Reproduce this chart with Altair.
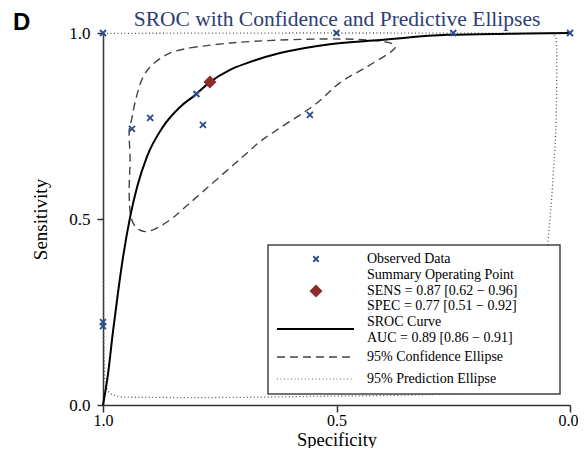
import altair as alt
import pandas as pd

# ---------------- data ----------------
obs_spec = [1.0, 0.5, 0.25, 0.0, 0.938, 0.899, 0.800, 0.786, 0.557, 1.0, 1.0]
obs_sens = [1.0, 1.0, 1.0, 1.0, 0.742, 0.772, 0.836, 0.753, 0.780, 0.223, 0.212]

summary_spec = [0.771]
summary_sens = [0.868]

sroc_spec = [1.0, 0.989, 0.979, 0.968, 0.957, 0.942, 0.927, 0.906, 0.872, 0.835,
             0.803, 0.771, 0.728, 0.692, 0.621, 0.514, 0.407, 0.263, 0.122, 0.0]
sroc_sens = [0.0, 0.086, 0.194, 0.301, 0.398, 0.505, 0.586, 0.667, 0.747, 0.801,
             0.833, 0.868, 0.901, 0.919, 0.946, 0.970, 0.981, 0.995, 0.998, 1.0]

conf_spec = [0.814, 0.728, 0.621, 0.493, 0.407, 0.377, 0.381, 0.435, 0.493, 0.550,
             0.653, 0.692, 0.814, 0.857, 0.899, 0.925, 0.940, 0.944, 0.942, 0.944,
             0.938, 0.931, 0.917, 0.895, 0.857, 0.814]
conf_sens = [0.960, 0.973, 0.981, 0.984, 0.978, 0.968, 0.952, 0.909, 0.866, 0.804,
             0.718, 0.677, 0.543, 0.497, 0.468, 0.473, 0.505, 0.570, 0.659, 0.734,
             0.772, 0.815, 0.874, 0.914, 0.946, 0.960]

pred_spec = [0.999, 0.5, 0.040, 0.030, 0.028, 0.029, 0.036, 0.047, 0.060, 0.080,
             0.120, 0.200, 0.300, 0.500, 0.800, 0.950, 0.980, 0.990, 0.995, 0.998,
             0.999, 0.999]
pred_sens = [0.999, 1.0, 0.999, 0.990, 0.950, 0.800, 0.620, 0.440, 0.250, 0.100,
             0.045, 0.032, 0.028, 0.024, 0.020, 0.021, 0.028, 0.040, 0.060, 0.150,
             0.500, 0.999]

axis_ticks = [0.0, 0.5, 1.0]

title_text = "SROC with Confidence and Predictive Ellipses"
panel_label = "D"
legend_entries = [
    "Observed Data",
    "Summary Operating Point\nSENS = 0.87 [0.62 \u2212 0.96]\nSPEC = 0.77 [0.51 \u2212 0.92]",
    "SROC Curve\nAUC = 0.89 [0.86 \u2212 0.91]",
    "95% Confidence Ellipse",
    "95% Prediction Ellipse",
]

# ---------------- tables ----------------
obs_df = pd.DataFrame({"spec": obs_spec, "sens": obs_sens})
sum_df = pd.DataFrame({"spec": summary_spec, "sens": summary_sens})
sroc_df = pd.DataFrame({"spec": sroc_spec, "sens": sroc_sens, "i": range(len(sroc_spec))})
conf_df = pd.DataFrame({"spec": conf_spec, "sens": conf_sens, "i": range(len(conf_spec))})
pred_df = pd.DataFrame({"spec": pred_spec, "sens": pred_sens, "i": range(len(pred_spec))})

SERIF = "Liberation Serif"
X_CROSS = "M-1,-1L1,1M-1,1L1,-1"
BLUE = "#284B8C"
RED = "#8B2B2B"

x_enc = alt.X("spec:Q", title="Specificity",
              scale=alt.Scale(domain=[0, 1], reverse=True, nice=False, zero=False),
              axis=alt.Axis(values=axis_ticks, format=".1f", grid=False,
                            labelFlush=False, tickSize=7, labelPadding=0,
                            labelFontSize=16, titleFontSize=18.5,
                            titleBaseline="alphabetic", titleY=40,
                            labelAlign=alt.condition("datum.value == 0",
                                                     alt.value("right"),
                                                     alt.value("center")),
                            labelOffset=alt.condition("datum.value == 0",
                                                      alt.value(8),
                                                      alt.value(0))))
y_enc = alt.Y("sens:Q", title="Sensitivity",
              scale=alt.Scale(domain=[0, 1], nice=False),
              axis=alt.Axis(values=axis_ticks, format=".1f", grid=False,
                            tickSize=6, labelPadding=7, titlePadding=18))

pred = alt.Chart(pred_df).mark_line(color="#555555", strokeWidth=1.3,
                                    strokeDash=[1, 2.5], interpolate="monotone").encode(
    x=x_enc, y=y_enc, order="i:Q")
conf = alt.Chart(conf_df).mark_line(color="#444444", strokeWidth=1.4,
                                    strokeDash=[8, 5], interpolate="cardinal").encode(
    x="spec:Q", y="sens:Q", order="i:Q")
sroc = alt.Chart(sroc_df).mark_line(color="black", strokeWidth=2,
                                    interpolate="monotone").encode(
    x="spec:Q", y="sens:Q", order="i:Q")
obs = alt.Chart(obs_df).mark_point(shape=X_CROSS, size=36, filled=False,
                                   strokeWidth=1.8, color=BLUE, opacity=1).encode(
    x="spec:Q", y="sens:Q")
summ = alt.Chart(sum_df).mark_point(shape="diamond", size=170, filled=True,
                                    color=RED, opacity=1).encode(
    x="spec:Q", y="sens:Q")

one = pd.DataFrame({"k": [0]})


def txt(label, x, y, size=14, line_height=15.5):
    return alt.Chart(pd.DataFrame({"label": [label]})).mark_text(
        align="left", baseline="middle", font=SERIF, fontSize=size,
        lineBreak="\n", lineHeight=line_height, color="black").encode(
        x=alt.value(x), y=alt.value(y), text="label:N")


def hline(x1, x2, y, dash=None, width=1.5, color="#444444"):
    kw = dict(color=color, strokeWidth=width)
    if dash:
        kw["strokeDash"] = dash
    return alt.Chart(one).mark_rule(**kw).encode(
        x=alt.value(x1), x2=alt.value(x2), y=alt.value(y))


box = alt.Chart(one).mark_rect(fill="white", stroke="#444444", strokeWidth=1.5).encode(
    x=alt.value(165), x2=alt.value(457), y=alt.value(212), y2=alt.value(361))

leg_obs = alt.Chart(one).mark_point(shape=X_CROSS, size=30, filled=False,
                                    strokeWidth=1.8, color=BLUE, opacity=1).encode(
    x=alt.value(213), y=alt.value(226))
leg_sum = alt.Chart(one).mark_point(shape="diamond", size=170, filled=True,
                                    color=RED, opacity=1).encode(
    x=alt.value(213), y=alt.value(258))

# y of the first line of each legend entry
text_y = [226, 242, 289, 324, 346]
legend_texts = [txt(l, 264, yy) for l, yy in zip(legend_entries, text_y)]

title_mark = alt.Chart(pd.DataFrame({"label": [title_text]})).mark_text(
    align="center", baseline="alphabetic", font=SERIF, fontSize=21.5,
    color="#2F3D73").encode(x=alt.value(234), y=alt.value(-7), text="label:N")
d_mark = alt.Chart(pd.DataFrame({"label": [panel_label]})).mark_text(
    align="left", baseline="alphabetic", font="Liberation Sans", fontSize=24,
    fontWeight="bold", color="black").encode(x=alt.value(-90), y=alt.value(-3),
                                             text="label:N")

chart = alt.layer(
    pred, conf, sroc, obs, summ,
    box, leg_obs, leg_sum,
    hline(174, 251, 296, width=2, color="black"),
    hline(174, 251, 324, dash=[8, 5], width=1.4),
    hline(174, 251, 346, dash=[1, 2.5], width=1.2, color="#666666"),
    *legend_texts,
    title_mark, d_mark,
).properties(
    width=467, height=372,
    autosize=alt.AutoSizeParams(type="none"),
    padding={"left": 95, "top": 25, "right": 8, "bottom": 43},
    background="white",
).configure_view(stroke=None).configure_axis(
    labelFont=SERIF, labelFontSize=17, labelColor="black",
    titleFont=SERIF, titleFontSize=19, titleFontWeight="normal", titleColor="black",
    domainColor="#333333", domainWidth=1.5, tickColor="#333333", tickWidth=1.5,
)

chart.save("out.html", embed_options={"renderer": "svg", "actions": False})
